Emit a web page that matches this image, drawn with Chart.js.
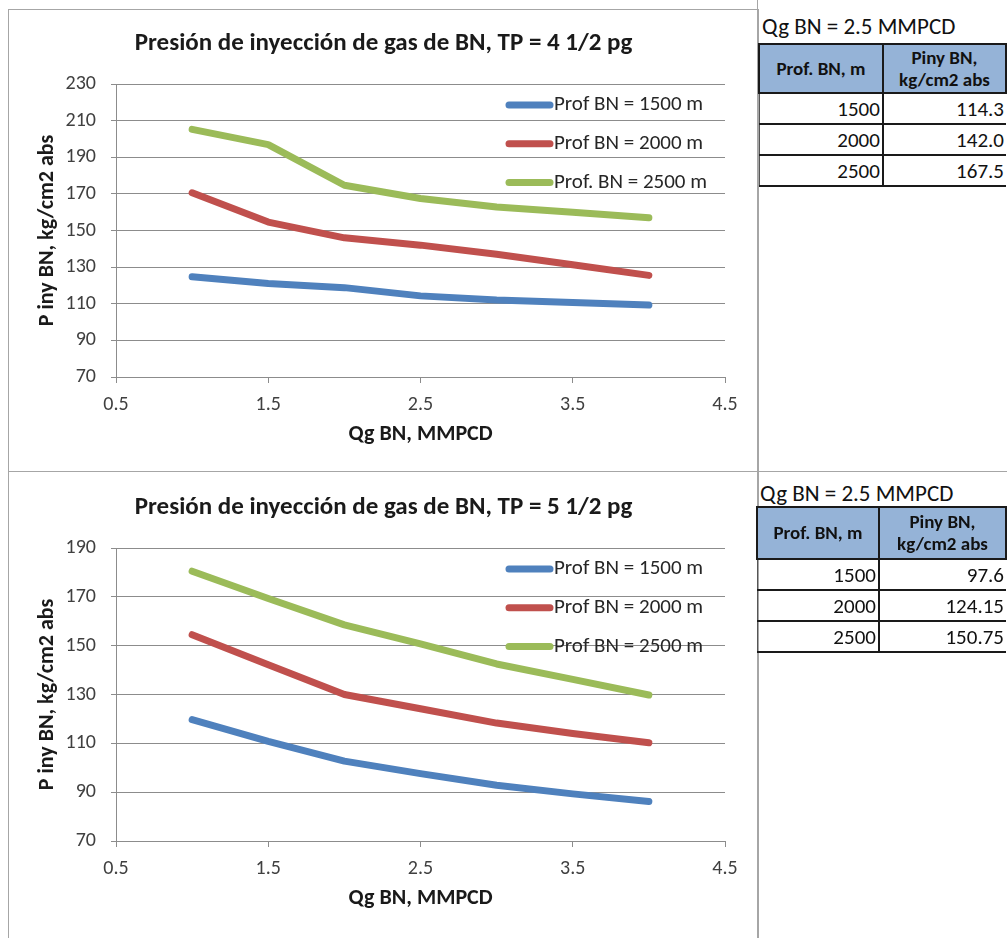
<!DOCTYPE html>
<html>
<head>
<meta charset="utf-8">
<script src="https://cdn.jsdelivr.net/npm/chart.js@4.4.0/dist/chart.umd.min.js"></script>
<style>
html,body{margin:0;padding:0;background:#fff;width:1007px;height:938px;overflow:hidden;font-family:Carlito,Lato,sans-serif;}
.box{position:absolute;border:1px solid #a6a6a6;box-sizing:border-box;background:#fff;}
#box1{left:8px;top:9px;width:751px;height:463px;}
#box2{left:8px;top:471px;width:751px;height:480px;}
.cw{position:absolute;}
#cw1{left:9px;top:10px;width:749px;height:461px;}
#cw2{left:9px;top:472px;width:749px;height:463px;}
.vline{position:absolute;left:757px;top:0;width:1px;height:938px;background:#a6a6a6;}
.hline{position:absolute;left:757px;top:471px;width:250px;height:1px;background:#a6a6a6;}
.caption{position:absolute;font-size:23px;color:#111;white-space:nowrap;line-height:24px;}
table.t{position:absolute;border-collapse:collapse;table-layout:fixed;font-family:Carlito,Lato,sans-serif;color:#111;}
table.t th{background:#95b3d7;border:2px solid #1a1a1a;font-weight:bold;font-size:19px;line-height:22px;padding:0;text-align:center;}
table.t td{font-size:21px;text-align:right;padding:0 2px 0 0;border-bottom:2px solid #1a1a1a;}
table.t td.c1{border-left:1px solid #555;border-right:2px solid #1a1a1a;}
</style>
</head>
<body>
<div class="box" id="box1"></div>
<div class="box" id="box2"></div>
<div class="vline"></div>
<div class="hline"></div>
<div class="cw" id="cw1"><canvas id="c1" width="749" height="461"></canvas></div>
<div class="cw" id="cw2"><canvas id="c2" width="749" height="463"></canvas></div>

<div class="caption" style="left:762px;top:14px;">Qg BN = 2.5 MMPCD</div>
<table class="t" id="tab1" style="left:758px;top:43px;"></table>
<div class="caption" style="left:760px;top:481px;">Qg BN = 2.5 MMPCD</div>
<table class="t" id="tab2" style="left:756px;top:506px;"></table>

<script>
// ---- data ----
const qg = [1, 1.5, 2, 2.5, 3, 3.5, 4];
const xTickValues = [0.5, 1.5, 2.5, 3.5, 4.5];
const yTicksTop = [70, 90, 110, 130, 150, 170, 190, 210, 230];
const yTicksBottom = [70, 90, 110, 130, 150, 170, 190];

const labelsTop = ['Prof BN = 1500 m', 'Prof BN = 2000 m', 'Prof. BN = 2500 m'];
const labelsBottom = ['Prof BN = 1500 m', 'Prof BN = 2000 m', 'Prof BN = 2500 m'];

const top1500 = [124.7, 121.0, 118.8, 114.3, 112.0, 110.7, 109.3];
const top2000 = [170.6, 154.6, 146.0, 142.0, 137.0, 131.3, 125.5];
const top2500 = [205.2, 196.9, 174.7, 167.5, 162.8, 160.0, 157.0];

const bot1500 = [119.7, 110.8, 102.7, 97.6, 92.8, 89.3, 86.2];
const bot2000 = [154.5, 142.2, 130.0, 124.15, 118.3, 114.0, 110.2];
const bot2500 = [180.5, 169.3, 158.5, 150.75, 142.5, 136.2, 129.8];

const tableDepths = [1500, 2000, 2500];
const tableTopP = ['114.3', '142.0', '167.5'];
const tableBottomP = ['97.6', '124.15', '150.75'];

const colors = ['#4f81bd', '#c0504d', '#9bbb59'];
const FONT = 'Carlito, Lato, sans-serif';

// ---- tables ----
function buildTable(id, depths, vals, w1, w2, hh, rh) {
  const t = document.getElementById(id);
  let html = '<colgroup><col style="width:' + w1 + 'px"><col style="width:' + w2 + 'px"></colgroup>';
  html += '<tr style="height:' + hh + 'px"><th>Prof. BN, m</th><th>Piny BN,<br>kg/cm2 abs</th></tr>';
  depths.forEach((d, i) => {
    html += '<tr style="height:' + rh + 'px"><td class="c1">' + d + '</td><td>' + vals[i] + '</td></tr>';
  });
  t.innerHTML = html;
}
buildTable('tab1', tableDepths, tableTopP, 125, 124, 49, 31);
buildTable('tab2', tableDepths, tableBottomP, 123, 128, 52, 31);

// ---- legend drawn inside the plot ----
const insideLegend = {
  id: 'insideLegend',
  afterDatasetsDraw(chart, args, opts) {
    const {ctx, chartArea} = chart;
    ctx.save();
    chart.data.datasets.forEach((ds, i) => {
      const y = chartArea.top + opts.firstY + i * opts.gap;
      ctx.beginPath();
      ctx.strokeStyle = ds.borderColor;
      ctx.lineWidth = ds.borderWidth;
      ctx.lineCap = 'round';
      ctx.moveTo(chartArea.right + opts.x0, y);
      ctx.lineTo(chartArea.right + opts.x1, y);
      ctx.stroke();
      ctx.fillStyle = '#262626';
      ctx.font = '21px ' + FONT;
      ctx.textBaseline = 'middle';
      ctx.textAlign = 'left';
      ctx.fillText(ds.label, chartArea.right + opts.tx, y);
    });
    ctx.restore();
  }
};

function makeChart(canvasId, title, labels, series, yTicks, titlePad) {
  const datasets = series.map((arr, i) => ({
    label: labels[i],
    data: qg.map((x, j) => ({x: x, y: arr[j]})),
    borderColor: colors[i],
    backgroundColor: colors[i],
    borderWidth: 7,
    borderCapStyle: 'round',
    borderJoinStyle: 'round',
    pointRadius: 0,
    tension: 0,
    fill: false,
    yAxisID: 'y'
  }));
  return new Chart(document.getElementById(canvasId), {
    type: 'line',
    data: {datasets: datasets},
    plugins: [insideLegend],
    options: {
      responsive: false,
      animation: false,
      events: [],
      layout: {padding: 0},
      plugins: {
        legend: {display: false},
        tooltip: {enabled: false},
        title: {
          display: true, text: title, color: '#1a1a1a',
          font: {family: FONT, size: 25, weight: 'bold', lineHeight: 1.2},
          padding: titlePad
        },
        insideLegend: {firstY: 21, gap: 38.7, x0: -216, x1: -175, tx: -171}
      },
      scales: {
        x: {
          type: 'linear', min: xTickValues[0], max: xTickValues[xTickValues.length - 1],
          afterBuildTicks: s => { s.ticks = xTickValues.map(v => ({value: v})); },
          afterFit: s => { s.height = 94; },
          grid: {drawOnChartArea: false, drawTicks: true, tickLength: 6, color: '#8c8c8c'},
          border: {color: '#8c8c8c'},
          ticks: {font: {family: FONT, size: 20}, color: '#404040', padding: 10, maxRotation: 0, autoSkip: false,
                  callback: v => v.toFixed(1)},
          title: {display: true, text: 'Qg BN, MMPCD', color: '#1a1a1a',
                  font: {family: FONT, size: 22, weight: 'bold', lineHeight: 1.2}, padding: {top: 0, bottom: 23}}
        },
        y: {
          type: 'linear', position: 'left', min: yTicks[0], max: yTicks[yTicks.length - 1],
          afterBuildTicks: s => { s.ticks = yTicks.map(v => ({value: v})); },
          afterFit: s => { s.width = 107; },
          grid: {drawTicks: true, tickLength: 5, color: '#8c8c8c'},
          border: {color: '#8c8c8c'},
          ticks: {font: {family: FONT, size: 20}, color: '#404040', padding: 15, autoSkip: false},
          title: {display: true, text: 'P iny BN, kg/cm2 abs', color: '#1a1a1a',
                  font: {family: FONT, size: 22, weight: 'bold', lineHeight: 1.2}, padding: {top: 25, bottom: 0}}
        },
        yRight: {
          type: 'linear', position: 'right', min: yTicks[0], max: yTicks[yTicks.length - 1],
          afterFit: s => { s.width = 33; },
          grid: {display: false, drawTicks: false},
          border: {display: false},
          ticks: {display: false},
          title: {display: false}
        }
      }
    }
  });
}

makeChart('c1', 'Presión de inyección de gas de BN, TP = 4 1/2 pg', labelsTop,
  [top1500, top2000, top2500], yTicksTop, {top: 19, bottom: 25});
makeChart('c2', 'Presión de inyección de gas de BN, TP = 5 1/2 pg', labelsBottom,
  [bot1500, bot2000, bot2500], yTicksBottom, {top: 21, bottom: 25});
</script>
</body>
</html>
